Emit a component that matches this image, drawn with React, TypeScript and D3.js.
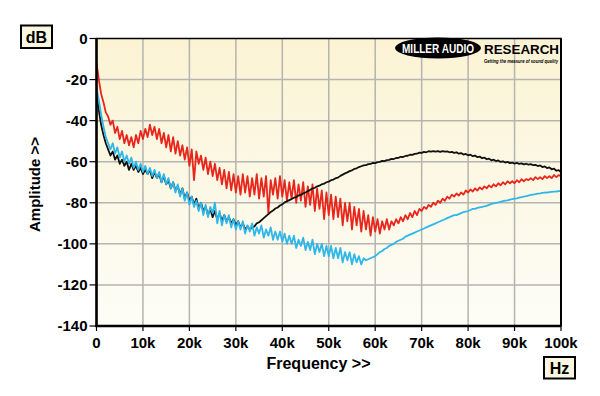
import * as d3 from "d3";

// frequency step between samples, in kHz (index * step = frequency)
const STEP_K = 0.5;

// Red trace, dB, 0..100 kHz in 0.5 kHz steps
const redDb = [
  -12, -20, -27, -31, -36, -38, -42, -40, -46, -43,
  -49, -45, -51, -47, -52, -48, -53, -47, -51, -45,
  -49, -44, -48, -42, -47, -43, -49, -44, -51, -46,
  -53, -47, -55, -48, -56, -50, -57, -52, -59, -53,
  -62, -54, -69, -55, -61, -57, -64, -58, -66, -60,
  -67, -61, -69, -63, -71, -64, -73, -65, -74, -66,
  -75, -67, -76, -66, -75, -67, -77, -68, -76, -66,
  -78, -68, -77, -67, -85, -69, -76, -68, -78, -67,
  -77, -69, -79, -70, -78, -69, -80, -71, -79, -70,
  -82, -72, -81, -71, -84, -73, -83, -74, -88, -75,
  -86, -76, -88, -77, -87, -78, -91, -80, -89, -80,
  -93, -82, -91, -83, -94, -84, -93, -86, -96, -87,
  -94, -88, -95, -89, -93, -88, -93, -89, -91, -88,
  -90, -87, -89, -86, -88, -85, -87, -84, -86, -83,
  -84, -82, -83, -81, -82, -80, -81, -79, -80, -78,
  -79, -77, -78, -76, -77, -75.5, -76.5, -75, -76, -74,
  -75, -73.5, -74.5, -73, -74, -72.5, -73.5, -72, -73, -71.5,
  -72.5, -71, -72, -70.5, -71.5, -70, -71, -69.5, -70.5, -69.5,
  -70.5, -69, -70, -68.5, -69.5, -68.5, -69, -68, -69, -67.5,
  -68.5, -67.5, -68.5, -67, -68, -67, -68, -66.5, -67.5, -66.5,
  -67,
];

// Blue trace, dB
const blueDb = [
  -24, -30, -37, -43, -48, -51, -54, -51, -56, -53,
  -58, -55, -60, -57, -61, -58, -63, -60, -64, -61,
  -65, -62, -66, -63, -67, -64, -68, -65, -70, -66,
  -71, -68, -73, -70, -75, -71, -77, -73, -79, -75,
  -81, -77, -82, -79, -84, -80, -86, -81, -87, -82,
  -85, -80, -90, -84, -91, -86, -90, -86, -92, -88,
  -93, -89, -93, -89, -95, -91, -94, -90, -96, -92,
  -95, -91, -97, -93, -96, -92, -98, -94, -98, -94,
  -99, -95, -100, -96, -100, -96, -102, -98, -101, -97,
  -103, -99, -103, -98, -105, -100, -104, -100, -106, -101,
  -106, -101, -107, -102, -107, -102, -109, -104, -108, -104,
  -110, -105, -109, -106, -110, -107, -108, -107.5, -107, -106.5,
  -106, -105, -104, -103.5, -102.5, -102, -101, -100.5, -100, -99,
  -98.5, -98, -97.5, -96.5, -96, -95.5, -95, -94.5, -94, -93.5,
  -93, -92.5, -92, -91.5, -91, -90.5, -90, -89.5, -89, -88.5,
  -88, -87.5, -87, -86.5, -86, -86, -85.5, -85, -84.5, -84.3,
  -84, -83.5, -83, -83, -82.5, -82.2, -82, -81.8, -81.5, -81,
  -80.5, -80.3, -80, -79.8, -79.5, -79.2, -79, -78.8, -78.5, -78.2,
  -78, -77.8, -77.5, -77.2, -77, -76.8, -76.5, -76.2, -76, -75.8,
  -75.5, -75.4, -75.2, -75.1, -75, -74.8, -74.7, -74.6, -74.5, -74.3,
  -74.2,
];

// Black trace, dB
const blackDb = [
  -27, -35, -42, -47, -51, -54, -57, -55, -59, -57,
  -61, -59, -62, -60, -64, -61, -64, -62, -65, -63,
  -66, -64, -66, -64, -68, -65, -68, -66, -70, -67,
  -71, -69, -73, -70, -74, -72, -76, -73, -78, -75,
  -79, -77, -81, -78, -83, -80, -84, -82, -86, -83,
  -87, -84, -88, -85, -89, -86, -89, -87, -90, -88,
  -91, -89, -92, -90, -93, -91.5, -93, -92, -91.5, -90,
  -89.5, -88.5, -87.5, -86.5, -85.5, -84.5, -83.8, -82.8, -82.3, -81.3,
  -80.8, -79.8, -79.3, -78.7, -78.2, -77.5, -77.2, -76.4, -76.2, -75.4,
  -75, -74.3, -73.7, -73, -72.7, -72, -71.7, -71, -70.7, -70,
  -69.7, -69, -68.7, -68, -67.7, -66.9, -66.3, -65.7, -65.2, -64.6,
  -64.2, -63.5, -63.2, -62.6, -62.2, -61.8, -61.7, -61.2, -61.1, -60.6,
  -60.7, -60.2, -60.1, -59.6, -59.7, -59.2, -59.1, -58.6, -58.7, -58.2,
  -58.1, -57.6, -57.7, -57.2, -57.1, -56.6, -56.7, -56.2, -56.1, -55.6,
  -55.7, -55.2, -55.4, -54.9, -55.1, -54.8, -55.1, -54.8, -55.2, -54.8,
  -55.1, -55, -55.4, -55.2, -55.7, -55.4, -56.1, -55.8, -56.5, -56.2,
  -56.9, -56.6, -57.3, -57, -57.8, -57.5, -58.3, -58, -58.8, -58.5,
  -59.3, -59, -59.7, -59.4, -60.1, -59.8, -60.4, -60.1, -60.7, -60.4,
  -60.9, -60.6, -61.1, -60.8, -61.3, -61, -61.4, -61.2, -61.7, -61.5,
  -62.1, -61.8, -62.6, -62.3, -63.1, -62.8, -63.7, -63.4, -64.4, -64.1,
  -65,
];

const xTicks = [0, 10, 20, 30, 40, 50, 60, 70, 80, 90, 100];
const xTickLabels = ["0", "10k", "20k", "30k", "40k", "50k", "60k", "70k", "80k", "90k", "100k"];
const yTicks = [0, -20, -40, -60, -80, -100, -120, -140];

const W = 600;
const H = 396;
const plot = { left: 96.5, right: 561, top: 38.5, bottom: 326 };

const FONT = "'Liberation Sans', Arial, sans-serif";

const x = d3.scaleLinear().domain([0, 100]).range([plot.left, plot.right]);
const y = d3.scaleLinear().domain([-140, 0]).range([plot.bottom, plot.top]);

const line = d3
  .line<number>()
  .x((_, i) => x(i * STEP_K))
  .y((d) => y(d));

const App = () => {
  return (
    <div style={{ position: "fixed", left: 0, top: 0 }}>
      <svg width={W} height={H} style={{ display: "block", background: "#fff" }}>
        <defs>
          <linearGradient id="bg" x1="0" y1="0" x2="0" y2="1">
            <stop offset="0%" stopColor="#fbf3d3" />
            <stop offset="100%" stopColor="#fdfdf7" />
          </linearGradient>
          <clipPath id="clip">
            <rect x={plot.left} y={plot.top} width={plot.right - plot.left} height={plot.bottom - plot.top} />
          </clipPath>
        </defs>

        <rect
          x={plot.left}
          y={plot.top}
          width={plot.right - plot.left}
          height={plot.bottom - plot.top}
          fill="url(#bg)"
        />

        {/* grid */}
        <g stroke="#b4b4b0" strokeWidth={1.5}>
          {xTicks.slice(1, -1).map((t) => (
            <line key={t} x1={x(t)} x2={x(t)} y1={plot.top} y2={plot.bottom} />
          ))}
          {yTicks.slice(1, -1).map((t) => (
            <line key={t} x1={plot.left} x2={plot.right} y1={y(t)} y2={y(t)} />
          ))}
        </g>

        {/* logo */}
        <g>
          <ellipse cx={438} cy={48} rx={43} ry={10.5} fill="#000" />
          <text
            x={402}
            y={53}
            fill="#fff"
            fontFamily={FONT}
            fontWeight="bold"
            fontSize={12.5}
            textLength={72}
            lengthAdjust="spacingAndGlyphs"
          >
            MILLER AUDIO
          </text>
          <text
            x={484}
            y={53.5}
            fill="#000"
            fontFamily={FONT}
            fontWeight="bold"
            fontSize={13.5}
            textLength={75}
            lengthAdjust="spacingAndGlyphs"
          >
            RESEARCH
          </text>
          <text
            x={484}
            y={63}
            fill="#000"
            fontFamily={FONT}
            fontWeight="bold"
            fontStyle="italic"
            fontSize={5.2}
            textLength={74}
            lengthAdjust="spacingAndGlyphs"
          >
            Getting the measure of sound quality
          </text>
        </g>

        {/* traces */}
        <g clipPath="url(#clip)" fill="none" strokeWidth={1.8} strokeLinejoin="round">
          <path d={line(redDb) ?? ""} stroke="#e8261c" />
          <path d={line(blackDb) ?? ""} stroke="#111" />
          <path d={line(blueDb) ?? ""} stroke="#2fb7ea" />
        </g>

        {/* frame */}
        <rect
          x={plot.left}
          y={plot.top}
          width={plot.right - plot.left}
          height={plot.bottom - plot.top}
          fill="none"
          stroke="#000"
          strokeWidth={1.5}
        />
        <line x1={plot.left} x2={plot.left} y1={plot.top} y2={plot.bottom + 1} stroke="#000" strokeWidth={2.5} />
        <line x1={plot.left - 1} x2={plot.right} y1={plot.bottom} y2={plot.bottom} stroke="#000" strokeWidth={2.5} />
        <line x1={plot.right} x2={plot.right} y1={plot.top} y2={plot.bottom} stroke="#000" strokeWidth={2} />

        {/* y axis ticks */}
        <g fontFamily={FONT} fontWeight="bold" fontSize={15} fill="#000">
          {yTicks.map((t) => (
            <g key={t}>
              <line x1={plot.left - 7} x2={plot.left} y1={y(t)} y2={y(t)} stroke="#000" strokeWidth={1.2} />
              <text x={plot.left - 9} y={y(t) + 5} textAnchor="end">
                {t}
              </text>
            </g>
          ))}
        </g>

        {/* x axis ticks */}
        <g fontFamily={FONT} fontWeight="bold" fontSize={15} fill="#000">
          {xTicks.map((t, i) => (
            <g key={t}>
              <line x1={x(t)} x2={x(t)} y1={plot.bottom} y2={plot.bottom + 5} stroke="#000" strokeWidth={1.2} />
              <text x={x(t)} y={348} textAnchor="middle">
                {xTickLabels[i]}
              </text>
            </g>
          ))}
        </g>

        {/* axis titles */}
        <text
          x={318.5}
          y={369}
          textAnchor="middle"
          fontFamily={FONT}
          fontWeight="bold"
          fontSize={16}
        >
          Frequency &gt;&gt;
        </text>
        <text
          transform="translate(40,184.5) rotate(-90)"
          textAnchor="middle"
          fontFamily={FONT}
          fontWeight="bold"
          fontSize={15}
        >
          Amplitude &gt;&gt;
        </text>

        {/* unit boxes */}
        <rect x={21} y={25.5} width={31} height={22.5} fill="#fbf6de" stroke="#000" strokeWidth={2} />
        <text x={36.5} y={42.5} textAnchor="middle" fontFamily={FONT} fontWeight="bold" fontSize={16}>
          dB
        </text>
        <rect x={544} y={357} width={31} height={21.5} fill="#fbf6de" stroke="#000" strokeWidth={2} />
        <text x={559.5} y={373.5} textAnchor="middle" fontFamily={FONT} fontWeight="bold" fontSize={16}>
          Hz
        </text>
      </svg>
    </div>
  );
};

export default App;
